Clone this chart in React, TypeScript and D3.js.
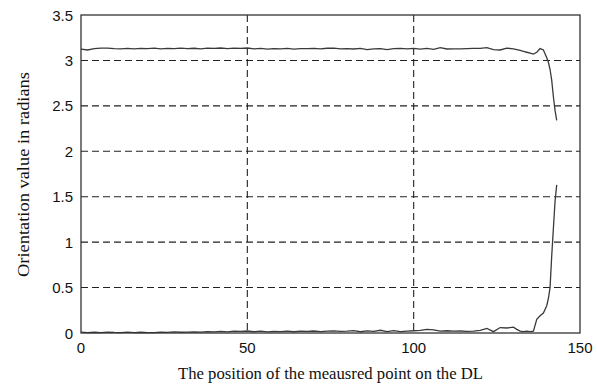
import React from "react";
import * as d3 from "d3";

const positions = [
  0, 2, 4, 6, 8, 10, 12, 14, 16, 18, 20, 22, 24, 26, 28, 30, 32, 34, 36, 38,
  40, 42, 44, 46, 48, 50, 52, 54, 56, 58, 60, 62, 64, 66, 68, 70, 72, 74, 76, 78,
  80, 82, 84, 86, 88, 90, 92, 94, 96, 98, 100, 102, 104, 106, 108, 110, 112, 114, 116, 118,
  120, 122, 124, 126, 128, 130, 131, 132, 133, 134, 135, 136, 137, 138, 139, 140,
  140.5, 141, 141.5, 142, 142.5, 143,
];

const upperSeries = [
  3.125, 3.115, 3.13, 3.135, 3.135, 3.13, 3.128, 3.132, 3.127, 3.133, 3.13, 3.135, 3.128, 3.133, 3.13, 3.136, 3.13, 3.134, 3.128, 3.135,
  3.132, 3.137, 3.13, 3.135, 3.133, 3.137, 3.128, 3.133, 3.125, 3.13, 3.128, 3.132, 3.125, 3.131, 3.13, 3.133, 3.128, 3.134, 3.135, 3.128,
  3.13, 3.126, 3.133, 3.12, 3.128, 3.13, 3.118, 3.13, 3.132, 3.128, 3.133, 3.125, 3.132, 3.122, 3.14, 3.126, 3.128, 3.127, 3.13, 3.132,
  3.133, 3.14, 3.12, 3.115, 3.135, 3.128, 3.12, 3.11, 3.1, 3.09, 3.08, 3.07, 3.09, 3.13, 3.115, 3.03,
  2.98, 2.9, 2.78, 2.6, 2.45, 2.34,
];

const lowerSeries = [
  0.01, 0.005, 0.008, 0.005, 0.01, 0.006, 0.005, 0.01, 0.005, 0.008, 0.005, 0.004, 0.01, 0.006, 0.012, 0.008, 0.01, 0.013, 0.01, 0.015,
  0.012, 0.017, 0.013, 0.02, 0.018, 0.022, 0.014, 0.02, 0.012, 0.018, 0.015, 0.02, 0.014, 0.02, 0.018, 0.022, 0.016, 0.02, 0.024, 0.018,
  0.02, 0.026, 0.014, 0.024, 0.018, 0.03, 0.016, 0.026, 0.015, 0.02, 0.025, 0.03, 0.04, 0.035, 0.02, 0.025, 0.02, 0.022, 0.018, 0.02,
  0.03, 0.05, 0.015, 0.06, 0.055, 0.065, 0.04, 0.02, 0.015, 0.02, 0.015, 0.02, 0.15, 0.19, 0.22, 0.3,
  0.38, 0.5, 0.85, 1.15, 1.45, 1.63,
];

const xTicks = [0, 50, 100, 150];
const yTicks = [0, 0.5, 1, 1.5, 2, 2.5, 3, 3.5];
const xGrid = [50, 100];
const yGrid = [0.5, 1, 1.5, 2, 2.5, 3];

const xTitle = "The position of the meausred point on the DL";
const yTitle = "Orientation value in radians";

export default function App() {
  const W = 597;
  const H = 387;
  const left = 81;
  const right = 580;
  const top = 15;
  const bottom = 333;

  const x = d3.scaleLinear().domain([0, 150]).range([left, right]);
  const y = d3.scaleLinear().domain([0, 3.5]).range([bottom, top]);

  const line = d3
    .line<number>()
    .x((_, i) => x(positions[i]))
    .y((d) => y(d));

  const tickFont = "'Liberation Sans', Arial, Helvetica, sans-serif";
  const titleFont = "'Liberation Serif', 'Times New Roman', serif";

  return (
    <svg
      width={W}
      height={H}
      style={{ position: "absolute", left: 0, top: 0, background: "#fff" }}
    >
      <rect x={0} y={0} width={W} height={H} fill="#fff" />
      {yGrid.map((v) => (
        <line
          key={"gy" + v}
          x1={left}
          x2={right}
          y1={y(v)}
          y2={y(v)}
          stroke="#222"
          strokeWidth={1.1}
          strokeDasharray="7,4"
        />
      ))}
      {xGrid.map((v) => (
        <line
          key={"gx" + v}
          x1={x(v)}
          x2={x(v)}
          y1={top}
          y2={bottom}
          stroke="#222"
          strokeWidth={1.1}
          strokeDasharray="7,4"
        />
      ))}
      <path d={line(upperSeries) || ""} fill="none" stroke="#3a3a3a" strokeWidth={1.3} />
      <path d={line(lowerSeries) || ""} fill="none" stroke="#3a3a3a" strokeWidth={1.3} />
      <rect
        x={left}
        y={top}
        width={right - left}
        height={bottom - top}
        fill="none"
        stroke="#333"
        strokeWidth={1.3}
      />
      {yTicks.map((v) => (
        <text
          key={"yt" + v}
          x={73}
          y={y(v) + 5.5}
          textAnchor="end"
          fontFamily={tickFont}
          fontSize={15}
          fill="#111"
        >
          {String(v)}
        </text>
      ))}
      {xTicks.map((v) => (
        <text
          key={"xt" + v}
          x={x(v)}
          y={353}
          textAnchor="middle"
          fontFamily={tickFont}
          fontSize={15}
          fill="#111"
        >
          {String(v)}
        </text>
      ))}
      <text
        x={(left + right) / 2}
        y={379}
        textAnchor="middle"
        fontFamily={titleFont}
        fontSize={16.5}
        fill="#111"
        textLength={305}
        lengthAdjust="spacingAndGlyphs"
      >
        {xTitle}
      </text>
      <text
        transform={`translate(29, ${(72 + 277) / 2}) rotate(-90)`}
        textAnchor="middle"
        fontFamily={titleFont}
        fontSize={16}
        fill="#111"
        textLength={205}
        lengthAdjust="spacingAndGlyphs"
      >
        {yTitle}
      </text>
    </svg>
  );
}
